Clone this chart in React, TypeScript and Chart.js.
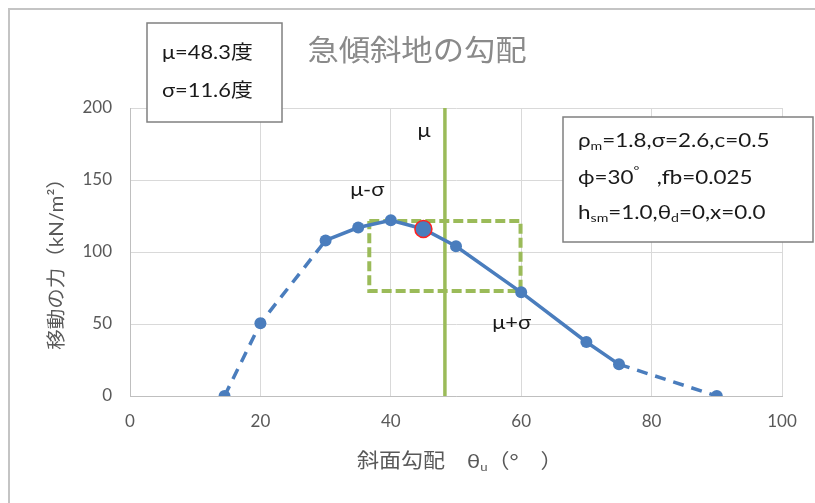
import React, { useEffect, useRef } from "react";
import { Chart, registerables } from "chart.js";

Chart.register(...registerables);

// ---- data ----
const thetaValues = [14.5, 20, 30, 35, 40, 45, 50, 60, 70, 75, 90];
const forceValues = [0, 50.5, 108, 117, 122, 116, 104, 72, 37.5, 22, 0];
const highlightTheta = [45];
const highlightForce = [116];
const mu = 48.3;
const sigma = 11.6;
const rectForceTop = 121.5;
const rectForceBottom = 73;
const solidFrom = 30;
const solidTo = 75;
const xMin = 0, xMax = 100, xStep = 20;
const yMin = 0, yMax = 200, yStep = 50;

const titleText = "急傾斜地の勾配";
const yTitleText = "移動の力（kN/m²）";

const FONT = "Lato, 'Noto Sans CJK JP', sans-serif";
const BLUE = "#4a7dbd";
const GREEN = "#9bbb59";

type Seg = { t: string; sub?: boolean; sup?: boolean };

function drawSegs(
  ctx: CanvasRenderingContext2D,
  segs: Seg[],
  x: number,
  y: number,
  size: number,
  hs = 1,
  align: "left" | "center" = "left"
) {
  ctx.save();
  ctx.textAlign = "left";
  ctx.textBaseline = "middle";
  let total = 0;
  for (const s of segs) {
    ctx.font = s.sub || s.sup ? `${Math.round(size * 0.62)}px ${FONT}` : `${size}px ${FONT}`;
    total += ctx.measureText(s.t).width;
  }
  ctx.translate(x, y);
  ctx.scale(hs, 1);
  let cx = align === "center" ? -total / 2 : 0;
  for (const s of segs) {
    if (s.sub || s.sup) {
      ctx.font = `${Math.round(size * 0.62)}px ${FONT}`;
      const dy = s.sub ? size * 0.28 : -size * 0.35;
      ctx.fillText(s.t, cx, dy);
    } else {
      ctx.font = `${size}px ${FONT}`;
      ctx.fillText(s.t, cx, 0);
    }
    cx += ctx.measureText(s.t).width;
  }
  ctx.restore();
}

const overlayPlugin = {
  id: "overlay",
  afterDraw(chart: any) {
    const ctx: CanvasRenderingContext2D = chart.ctx;
    const xs = chart.scales.x;
    const ys = chart.scales.y;
    ctx.save();
    // outer border (top and left visible)
    ctx.strokeStyle = "#c4c4c4";
    ctx.lineWidth = 2;
    ctx.beginPath();
    ctx.moveTo(9, 600);
    ctx.lineTo(9, 9);
    ctx.lineTo(900, 9);
    ctx.stroke();

    // title
    ctx.fillStyle = "#8a8a8a";
    drawSegs(ctx, [{ t: titleText }], 417, 52, 29, 1.08, "center");

    // y axis title
    ctx.save();
    ctx.translate(57, 259);
    ctx.rotate(-Math.PI / 2);
    ctx.fillStyle = "#595959";
    drawSegs(ctx, [{ t: yTitleText }], 0, 0, 19, 1.08, "center");
    ctx.restore();

    // x axis title
    ctx.fillStyle = "#595959";
    drawSegs(ctx, [{ t: "斜面勾配　θ" }, { t: "u", sub: true }, { t: "（°　）" }], 357, 462, 20, 1.1);

    // left box
    ctx.fillStyle = "#ffffff";
    ctx.fillRect(147, 23, 135, 99);
    ctx.strokeStyle = "#808080";
    ctx.lineWidth = 1.5;
    ctx.strokeRect(147, 23, 135, 99);
    ctx.fillStyle = "#1a1a1a";
    drawSegs(ctx, [{ t: `μ=${mu}度` }], 162, 53, 19, 1.15);
    drawSegs(ctx, [{ t: `σ=${sigma}度` }], 162, 91, 19, 1.15);

    // right box
    ctx.fillStyle = "#ffffff";
    ctx.fillRect(563, 117, 250, 125);
    ctx.strokeStyle = "#808080";
    ctx.strokeRect(563, 117, 250, 125);
    ctx.fillStyle = "#1a1a1a";
    drawSegs(ctx, [{ t: "ρ" }, { t: "m", sub: true }, { t: "=1.8,σ=2.6,c=0.5" }], 578, 141, 19, 1.18);
    drawSegs(ctx, [{ t: "ϕ=30" }, { t: "°", sup: true }, { t: "   ,fb=0.025" }], 578, 178, 19, 1.18);
    drawSegs(ctx, [{ t: "h" }, { t: "sm", sub: true }, { t: "=1.0,θ" }, { t: "d", sub: true }, { t: "=0,x=0.0" }], 578, 213, 19, 1.18);

    // annotations
    ctx.fillStyle = "#1a1a1a";
    drawSegs(ctx, [{ t: "μ" }], xs.getPixelForValue(mu) - 21, ys.getPixelForValue(184), 19, 1.15, "center");
    drawSegs(ctx, [{ t: "μ-σ" }], xs.getPixelForValue(mu - sigma) - 2, ys.getPixelForValue(143), 19, 1.15, "center");
    drawSegs(ctx, [{ t: "μ+σ" }], xs.getPixelForValue(mu + sigma) - 9, ys.getPixelForValue(51), 19, 1.15, "center");
    ctx.restore();
  },
};

export default function App() {
  const ref = useRef<HTMLCanvasElement | null>(null);
  useEffect(() => {
    if (!ref.current) return;
    const mainPts = thetaValues.map((x, i) => ({ x, y: forceValues[i] }));
    const hlPts = highlightTheta.map((x, i) => ({ x, y: highlightForce[i] }));
    const lo = mu - sigma;
    const hi = mu + sigma;
    const rectPts = [
      { x: lo, y: rectForceTop },
      { x: hi, y: rectForceTop },
      { x: hi, y: rectForceBottom },
      { x: lo, y: rectForceBottom },
      { x: lo, y: rectForceTop },
    ];
    const muPts = [
      { x: mu, y: yMin },
      { x: mu, y: yMax },
    ];
    const chart = new Chart(ref.current, {
      type: "scatter",
      data: {
        datasets: [
          {
            data: hlPts,
            showLine: false,
            pointRadius: 8.5,
            pointBackgroundColor: BLUE,
            pointBorderColor: "#ff2020",
            pointBorderWidth: 1.5,
            order: 0,
          },
          {
            data: mainPts,
            showLine: true,
            borderColor: BLUE,
            borderWidth: 3.5,
            pointRadius: 6,
            pointBackgroundColor: BLUE,
            pointBorderColor: BLUE,
            pointBorderWidth: 0,
            segment: {
              borderDash: (c: any) =>
                c.p0.parsed.x < solidFrom || c.p0.parsed.x >= solidTo ? [11, 8] : undefined,
            },
            order: 1,
          },
          {
            data: rectPts,
            showLine: true,
            borderColor: GREEN,
            borderWidth: 4,
            borderDash: [10, 4],
            pointRadius: 0,
            order: 2,
          },
          {
            data: muPts,
            showLine: true,
            borderColor: GREEN,
            borderWidth: 3.5,
            pointRadius: 0,
            order: 3,
          },
        ],
      },
      options: {
        animation: false,
        responsive: false,
        layout: { padding: { left: 0, right: 33, top: 108, bottom: 0 } },
        plugins: {
          legend: { display: false },
          tooltip: { enabled: false },
          title: { display: false },
        },
        scales: {
          x: {
            type: "linear",
            min: xMin,
            max: xMax,
            afterFit: (s: any) => {
              s.height = 107;
            },
            ticks: {
              stepSize: xStep,
              padding: 15,
              color: "#595959",
              font: { family: FONT, size: 17 },
            },
            grid: { color: "#d9d9d9", lineWidth: 1, drawTicks: false },
            border: { color: "#bfbfbf", width: 1 },
          },
          y: {
            type: "linear",
            min: yMin,
            max: yMax,
            afterFit: (s: any) => {
              s.width = 130;
            },
            ticks: {
              stepSize: yStep,
              padding: 18,
              color: "#595959",
              font: { family: FONT, size: 17 },
            },
            grid: { color: "#d9d9d9", lineWidth: 1, drawTicks: false },
            border: { color: "#bfbfbf", width: 1 },
          },
        },
      },
      plugins: [overlayPlugin],
    } as any);
    return () => chart.destroy();
  }, []);
  return (
    <div style={{ position: "fixed", left: 0, top: 0, width: 815, height: 503, background: "#fff" }}>
      <canvas ref={ref} width={815} height={503} />
    </div>
  );
}
